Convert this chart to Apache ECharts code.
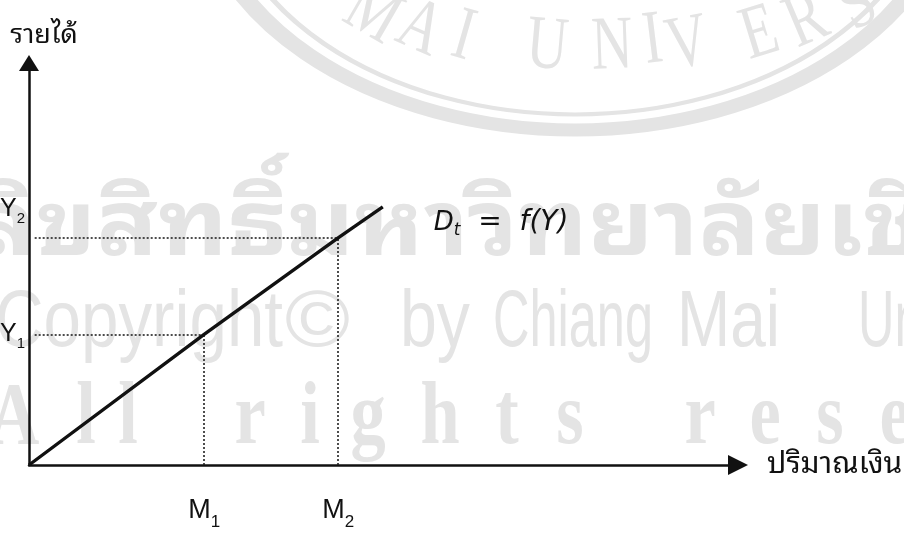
<!DOCTYPE html>
<html>
<head>
<meta charset="utf-8">
<script src="https://cdn.jsdelivr.net/npm/echarts@6/dist/echarts.min.js"></script>
<style>
html,body{margin:0;padding:0;background:#fff;}
#chart{width:904px;height:534px;}
</style>
</head>
<body>
<div id="chart"></div>
<script>
// ---- data ----
const xAxisName = 'ปริมาณเงิน';
const yAxisName = 'รายได้';
const moneyTicks = [24.7, 43.6];            // M1, M2
const moneyTickLabels = [['M', '1'], ['M', '2']];
const incomeTicks = [32.5, 56.5];           // Y1, Y2
const incomeTickLabels = [['Y', '1'], ['Y', '2']];
const demandX = [0, 24.7, 43.6, 49.9];
const demandY = [0, 32.5, 56.5, 64.2];
const curveLabel = ['D', 't', '  =  f(Y)'];

// watermark texts
const wmThai = 'ลิขสิทธิ์มหาวิทยาลัยเชียงใหม่';
const wmCopyright = ['Copyright', '©', 'by', 'Chiang', 'Mai', 'University'];
const wmRights = ['A', 'l', 'l', 'r', 'i', 'g', 'h', 't', 's', 'r', 'e', 's', 'e'];
const wmSeal = ['M', 'A', 'I', 'U', 'N', 'I', 'V', 'E', 'R', 'S'];

const THAI = "'Noto Sans Thai Looped','Noto Sans Thai','Noto Serif Thai','Loma','Garuda','Kinnari','Norasi','Waree','Sawasdee',sans-serif";
const INK = '#111';
const WM = '#e4e4e4';

const mctx = document.createElement('canvas').getContext('2d');
function measure(text, font) { mctx.font = font; return mctx.measureText(text).width; }

// ---- watermark graphics ----
const graphics = [];
graphics.push({ type: 'circle', x: 575, y: -128, scaleX: 1.465, silent: true, z: -10,
  shape: { cx: 0, cy: 0, r: 258 }, style: { fill: 'none', stroke: WM, lineWidth: 13 } });
graphics.push({ type: 'circle', x: 575, y: -128, scaleX: 1.465, silent: true, z: -10,
  shape: { cx: 0, cy: 0, r: 242.5 }, style: { fill: 'none', stroke: WM, lineWidth: 4 } });

function wmText(text, x, y, font, sx, rot, align) {
  graphics.push({ type: 'text', x: x, y: y, scaleX: sx || 1, rotation: rot || 0, silent: true, z: -10,
    style: { text: text, font: font, fill: WM, align: align || 'left', verticalAlign: 'middle',
      textAlign: align || 'left', textVerticalAlign: 'middle' } });
}

// Thai line
const thaiFont = 'bold 90px ' + THAI;
const thaiSx = 790 / measure('ขสิทธิ์มหาวิทยาลัย', thaiFont);
wmText(wmThai, 36 - thaiSx * measure('ลิ', thaiFont), 230, thaiFont, thaiSx);

// Copyright line
const cFont = "80px 'Liberation Sans'";
const cBoxes = [[-5, 283], [285, 350], [400, 470], [493, 653], [677, 780]];
let lastSx = 1;
wmCopyright.forEach(function (w, i) {
  let sx, left;
  if (i < cBoxes.length) { left = cBoxes[i][0]; sx = (cBoxes[i][1] - cBoxes[i][0]) / measure(w, cFont); }
  else { left = 858; sx = lastSx; }
  if (i === 3) lastSx = sx;
  wmText(w, left, 324, cFont, sx);
});

// All rights reserved
const rFont = "bold 88px 'Liberation Serif'";
const rCenters = [14, 86, 128, 250, 310, 368, 440, 507, 570, 700, 765, 830, 895];
wmRights.forEach(function (ch, i) { wmText(ch, rCenters[i], 420, rFont, 0.8, 0, 'center'); });

// seal lettering
const sFont = "76px 'Liberation Serif'";
const sPos = [[372, 15, -30], [420, 30, -24], [463, 38, -16], [547, 48, -5], [612, 48, 2],
  [653, 42, 7], [688, 46, 11], [760, 35, 17], [807, 22, 23], [858, 6, 29]];
wmSeal.forEach(function (ch, i) {
  wmText(ch, sPos[i][0], sPos[i][1], sFont, 0.75, sPos[i][2] * Math.PI / 180, 'center');
});

// ---- chart ----
const demandData = demandX.map(function (x, i) { return [x, demandY[i]]; });

const guides = [];
moneyTicks.forEach(function (m, i) {
  guides.push({ coords: [[0.8, incomeTicks[i]], [m, incomeTicks[i]]] });
  guides.push({ coords: [[m, 0], [m, incomeTicks[i]]] });
});

const chart = echarts.init(document.getElementById('chart'), null, { renderer: 'canvas' });
chart.setOption({
  animation: false,
  backgroundColor: '#ffffff',
  graphic: { elements: graphics },
  grid: { left: 29, right: 166, top: 63, bottom: 69, containLabel: false, outerBoundsMode: 'none' },
  xAxis: {
    type: 'value', min: 0, max: 100,
    name: xAxisName, nameLocation: 'end', nameGap: 29,
    nameTextStyle: { fontFamily: THAI, fontSize: 30, color: INK, verticalAlign: 'middle', padding: [14, 0, 0, 0] },
    axisLine: { show: true, onZero: false, symbol: ['none', 'triangle'], symbolSize: [20, 20],
      lineStyle: { color: INK, width: 2.5 } },
    axisTick: { show: false },
    splitLine: { show: false },
    axisLabel: {
      customValues: moneyTicks, margin: 26,
      formatter: function (v) {
        const i = moneyTicks.indexOf(v);
        return '{m|' + moneyTickLabels[i][0] + '}{s|' + moneyTickLabels[i][1] + '}';
      },
      rich: {
        m: { fontFamily: 'Liberation Sans', fontSize: 27, lineHeight: 40, color: INK },
        s: { fontFamily: 'Liberation Sans', fontSize: 17, lineHeight: 14, verticalAlign: 'bottom', color: INK }
      }
    }
  },
  yAxis: {
    type: 'value', min: 0, max: 100,
    name: yAxisName, nameLocation: 'end', nameGap: 14,
    nameTextStyle: { fontFamily: THAI, fontSize: 27, color: INK, align: 'center', padding: [0, 0, 0, 30] },
    axisLine: { show: true, onZero: false, symbol: ['none', 'triangle'], symbolSize: [20, 16],
      lineStyle: { color: INK, width: 2.5 } },
    axisTick: { show: false },
    splitLine: { show: false },
    axisLabel: {
      customValues: incomeTicks, margin: 4,
      formatter: function (v) {
        const i = incomeTicks.indexOf(v);
        const main = '{y|' + incomeTickLabels[i][0] + '}{ys|' + incomeTickLabels[i][1] + '}';
        // the upper label sits above its guide line in the reference
        return i === 0 ? main : main + '\n{gap| }';
      },
      rich: {
        y: { fontFamily: 'Liberation Sans', fontSize: 25, lineHeight: 34, color: INK },
        ys: { fontFamily: 'Liberation Sans', fontSize: 15, lineHeight: 14, verticalAlign: 'bottom', color: INK },
        gap: { fontSize: 10, lineHeight: 58 }
      }
    }
  },
  series: [
    {
      name: 'Dt = f(Y)', type: 'line', data: demandData, symbol: 'none', z: 5,
      lineStyle: { color: INK, width: 3.4 },
      endLabel: {
        show: true, distance: 8, offset: [43, 16],
        formatter: '{d|' + curveLabel[0] + '}{t|' + curveLabel[1] + '}{r|' + curveLabel[2] + '}',
        rich: {
          d: { fontFamily: 'DejaVu Sans', fontStyle: 'italic', fontSize: 26, lineHeight: 32, color: INK },
          t: { fontFamily: 'DejaVu Sans', fontStyle: 'italic', fontSize: 17, lineHeight: 14, verticalAlign: 'bottom', color: INK },
          r: { fontFamily: 'DejaVu Sans', fontStyle: 'italic', fontSize: 28, lineHeight: 32, color: INK }
        }
      }
    },
    {
      type: 'lines', coordinateSystem: 'cartesian2d', data: guides, silent: true, z: 4,
      lineStyle: { color: '#222', width: 1.6, type: [2, 2], opacity: 1, curveness: 0 }
    }
  ]
});
</script>
</body>
</html>
